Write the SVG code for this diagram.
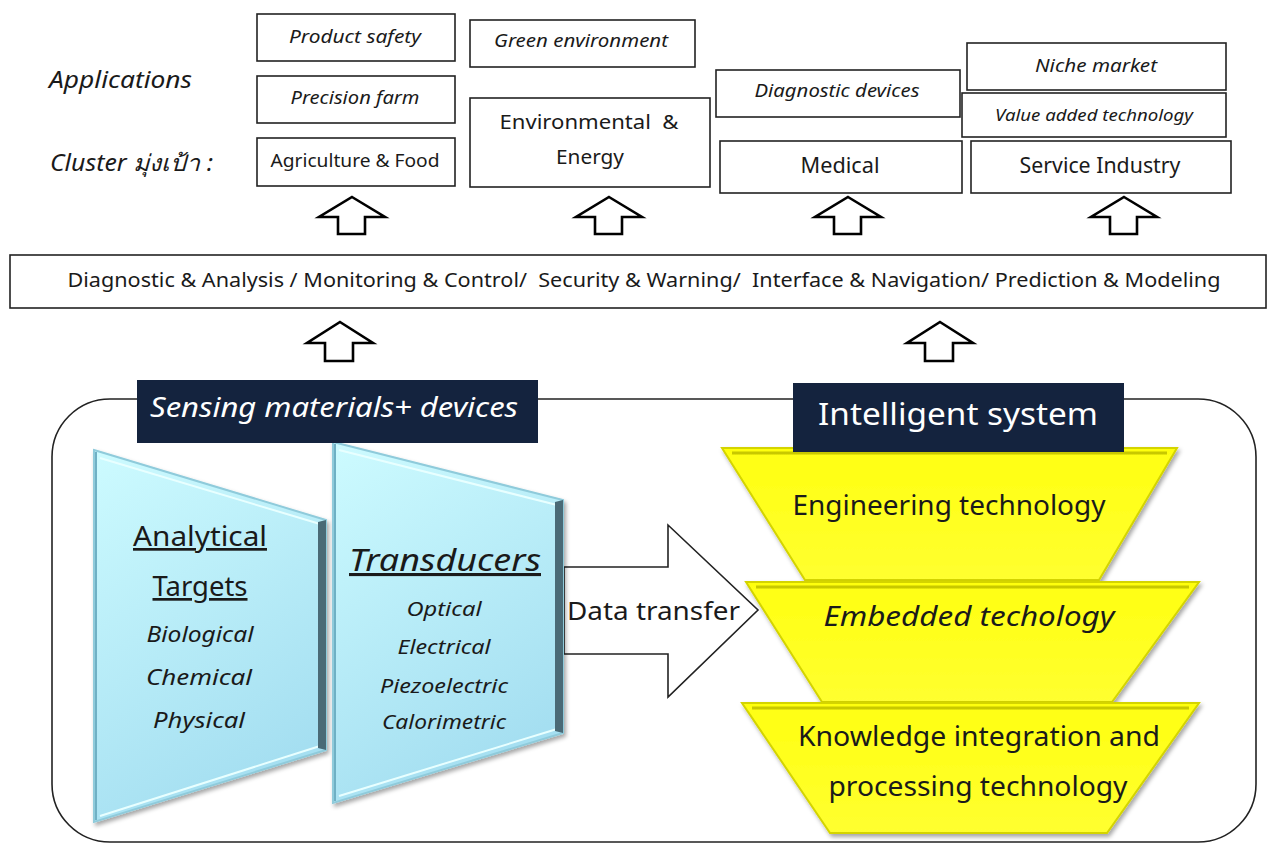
<svg xmlns="http://www.w3.org/2000/svg" width="1271" height="844" viewBox="0 0 1271 844">
<defs>
<style>
.t{font-family:"Noto Sans","DejaVu Sans","Liberation Sans",sans-serif;fill:#1a1a1a}
.i{font-style:italic}
.box{fill:#fff;stroke:#222;stroke-width:1.6}
.up{fill:#fff;stroke:#000;stroke-width:2.6;stroke-linejoin:miter}
.dark{fill:#14233e}
.c{text-anchor:middle}
</style>
<linearGradient id="cyan" x1="0" y1="0" x2="0.4" y2="1">
<stop offset="0" stop-color="#cdfbff"/>
<stop offset="1" stop-color="#a5dff1"/>
</linearGradient>
<linearGradient id="yel" x1="0" y1="0" x2="0" y2="1">
<stop offset="0" stop-color="#ffff10"/>
<stop offset="1" stop-color="#ffff30"/>
</linearGradient>
<filter id="sh" x="-10%" y="-10%" width="120%" height="120%">
<feDropShadow dx="2" dy="3" stdDeviation="2" flood-color="#000" flood-opacity="0.35"/>
</filter>
</defs>

<g id="labels">
<text class="t i" x="49" y="88" font-size="23" textLength="143" lengthAdjust="spacingAndGlyphs">Applications</text>
<text class="t i" x="50" y="171" font-size="23" textLength="163" lengthAdjust="spacingAndGlyphs">Cluster มุ่งเป้า :</text>
</g>

<g id="node-product-safety"><rect class="box" x="257" y="14" width="198" height="47"/><text class="t i c" x="355" y="43" font-size="18" textLength="132" lengthAdjust="spacingAndGlyphs">Product safety</text></g>
<g id="node-precision-farm"><rect class="box" x="257" y="76" width="198" height="47"/><text class="t i c" x="355" y="104" font-size="18" textLength="129" lengthAdjust="spacingAndGlyphs">Precision farm</text></g>
<g id="node-agri"><rect class="box" x="257" y="138" width="198" height="48"/><text class="t c" x="355" y="167" font-size="18" textLength="169" lengthAdjust="spacingAndGlyphs">Agriculture &amp; Food</text></g>

<g id="node-green"><rect class="box" x="470" y="20" width="225" height="47"/><text class="t i c" x="581" y="47" font-size="18" textLength="174" lengthAdjust="spacingAndGlyphs">Green environment</text></g>
<g id="node-env"><rect class="box" x="470" y="98" width="240" height="89"/><text class="t c" x="589" y="129" font-size="20" textLength="179" lengthAdjust="spacingAndGlyphs" xml:space="preserve">Environmental  &amp;</text><text class="t c" x="590" y="164" font-size="20" textLength="68" lengthAdjust="spacingAndGlyphs">Energy</text></g>

<g id="node-diag"><rect class="box" x="716" y="70" width="244" height="47"/><text class="t i c" x="837" y="97" font-size="18" textLength="165" lengthAdjust="spacingAndGlyphs">Diagnostic devices</text></g>
<g id="node-medical"><rect class="box" x="720" y="141" width="242" height="52"/><text class="t c" x="840" y="173" font-size="21" textLength="79" lengthAdjust="spacingAndGlyphs">Medical</text></g>

<g id="node-niche"><rect class="box" x="967" y="43" width="259" height="47"/><text class="t i c" x="1096" y="72" font-size="18" textLength="122" lengthAdjust="spacingAndGlyphs">Niche market</text></g>
<g id="node-value"><rect class="box" x="962" y="93" width="264" height="44"/><text class="t i c" x="1094" y="121" font-size="17" textLength="198" lengthAdjust="spacingAndGlyphs">Value added technology</text></g>
<g id="node-service"><rect class="box" x="971" y="141" width="260" height="52"/><text class="t c" x="1100" y="173" font-size="21" textLength="161" lengthAdjust="spacingAndGlyphs">Service Industry</text></g>

<g id="node-band"><rect class="box" x="10" y="255" width="1256" height="53"/><text class="t c" x="644" y="287" font-size="20" textLength="1153" lengthAdjust="spacingAndGlyphs" xml:space="preserve">Diagnostic &amp; Analysis / Monitoring &amp; Control/  Security &amp; Warning/  Interface &amp; Navigation/ Prediction &amp; Modeling</text></g>

<g id="connectors">
<path class="up" d="M352 197 L385 217 L365 217 L365 234 L338 234 L338 217 L319 217 Z"/>
<path class="up" d="M609 197 L642 217 L622 217 L622 234 L595 234 L595 217 L576 217 Z"/>
<path class="up" d="M848 197 L881 217 L861 217 L861 234 L834 234 L834 217 L815 217 Z"/>
<path class="up" d="M1124 197 L1157 217 L1137 217 L1137 234 L1110 234 L1110 217 L1091 217 Z"/>
<path class="up" d="M340 322 L373 343 L353 343 L353 361 L325 361 L325 343 L307 343 Z"/>
<path class="up" d="M940 322 L973 343 L953 343 L953 361 L925 361 L925 343 L907 343 Z"/>
<path id="data-transfer-arrow" d="M564 567 L668 567 L668 525 L758 610 L668 697 L668 654 L564 654 Z" fill="#fff" stroke="#222" stroke-width="1.6"/>
<text class="t" x="567" y="620" font-size="25" textLength="173" lengthAdjust="spacingAndGlyphs">Data transfer</text>
</g>

<g id="container"><rect x="52" y="399" width="1204" height="443" rx="58" ry="58" fill="none" stroke="#222" stroke-width="1.6"/></g>

<g id="node-analytical">
<polygon points="94,450 326,520 326,750 94,822" fill="url(#cyan)" stroke="#8fcbdb" stroke-width="2" filter="url(#sh)"/>
<polyline points="100,458 320,524" fill="none" stroke="#e8ffff" stroke-width="2"/>
<polyline points="100,816 320,746" fill="none" stroke="#e8ffff" stroke-width="2"/>
<polygon points="318,522 326,520 326,750 318,748" fill="#4a6a76"/>
<polyline points="96,452 96,820" fill="none" stroke="#6fb0c4" stroke-width="2"/>
<text class="t c" x="200" y="546" font-size="27" textLength="134" lengthAdjust="spacingAndGlyphs" text-decoration="underline">Analytical</text>
<text class="t c" x="200" y="596" font-size="27" textLength="95" lengthAdjust="spacingAndGlyphs" text-decoration="underline">Targets</text>
<text class="t i c" x="200" y="642" font-size="22" textLength="107" lengthAdjust="spacingAndGlyphs">Biological</text>
<text class="t i c" x="199" y="685" font-size="22" textLength="106" lengthAdjust="spacingAndGlyphs">Chemical</text>
<text class="t i c" x="199" y="728" font-size="22" textLength="92" lengthAdjust="spacingAndGlyphs">Physical</text>
</g>

<g id="node-transducers">
<polygon points="333,442 563,500 563,733 333,803" fill="url(#cyan)" stroke="#8fcbdb" stroke-width="2" filter="url(#sh)"/>
<polyline points="339,450 557,505" fill="none" stroke="#e8ffff" stroke-width="2"/>
<polyline points="339,796 557,729" fill="none" stroke="#e8ffff" stroke-width="2"/>
<polygon points="555,502 563,500 563,733 555,731" fill="#4a6a76"/>
<polyline points="335,444 335,801" fill="none" stroke="#6fb0c4" stroke-width="2"/>
<text class="t i c" x="445" y="571" font-size="31" textLength="192" lengthAdjust="spacingAndGlyphs" text-decoration="underline">Transducers</text>
<text class="t i c" x="444" y="616" font-size="20" textLength="75" lengthAdjust="spacingAndGlyphs">Optical</text>
<text class="t i c" x="444" y="654" font-size="20" textLength="93" lengthAdjust="spacingAndGlyphs">Electrical</text>
<text class="t i c" x="444" y="693" font-size="20" textLength="128" lengthAdjust="spacingAndGlyphs">Piezoelectric</text>
<text class="t i c" x="444" y="729" font-size="20" textLength="124" lengthAdjust="spacingAndGlyphs">Calorimetric</text>
</g>

<g id="node-engineering">
<polygon points="722,448 1177,448 1099,580 805,580" fill="url(#yel)" stroke="#d4d400" stroke-width="2" filter="url(#sh)"/>
<polyline points="732,453 1167,453" fill="none" stroke="#c8c800" stroke-width="3"/>
<text class="t c" x="949" y="515" font-size="27" textLength="313" lengthAdjust="spacingAndGlyphs">Engineering technology</text>
</g>
<g id="node-embedded">
<polygon points="746,582 1199,582 1112,702 822,702" fill="url(#yel)" stroke="#d4d400" stroke-width="2" filter="url(#sh)"/>
<polyline points="756,587 1189,587" fill="none" stroke="#c8c800" stroke-width="3"/>
<text class="t i c" x="969" y="626" font-size="27" textLength="291" lengthAdjust="spacingAndGlyphs">Embedded techology</text>
</g>
<g id="node-knowledge">
<polygon points="742,703 1199,703 1107,833 830,833" fill="url(#yel)" stroke="#d4d400" stroke-width="2" filter="url(#sh)"/>
<polyline points="752,708 1189,708" fill="none" stroke="#c8c800" stroke-width="3"/>
<text class="t c" x="979" y="746" font-size="27" textLength="362" lengthAdjust="spacingAndGlyphs">Knowledge integration and</text>
<text class="t c" x="978" y="796" font-size="27" textLength="299" lengthAdjust="spacingAndGlyphs">processing technology</text>
</g>

<g id="node-sensing-title"><rect class="dark" x="137" y="380" width="401" height="63"/><text class="t i" x="150" y="417" font-size="28" textLength="368" lengthAdjust="spacingAndGlyphs" style="fill:#fff">Sensing materials+ devices</text></g>
<g id="node-intelligent-title"><rect class="dark" x="793" y="383" width="331" height="69"/><text class="t c" x="958" y="425" font-size="31" textLength="280" lengthAdjust="spacingAndGlyphs" style="fill:#fff">Intelligent system</text></g>
</svg>
